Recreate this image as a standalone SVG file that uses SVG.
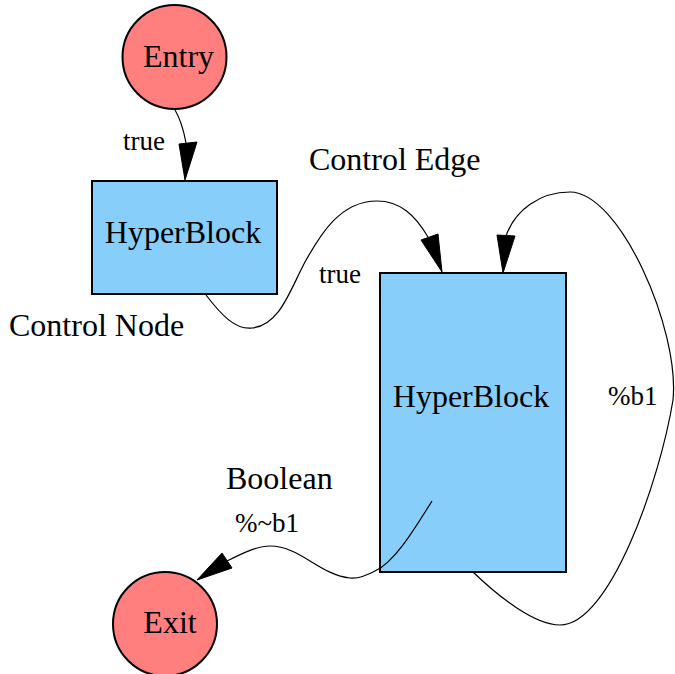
<svg xmlns="http://www.w3.org/2000/svg" width="675" height="674" viewBox="0 0 675 674">
  <style>
    .term { fill: #ff7f7f; stroke: #000; stroke-width: 2; }
    .block { fill: #87cefa; stroke: #000; stroke-width: 2; }
    .edge { fill: none; stroke: #000; stroke-width: 1.2; }
    .head { fill: #000; stroke: #000; stroke-width: 1; }
    .big { font-size: 32px; }
    .lbl { font-size: 27px; }
  </style>
  <rect width="675" height="674" fill="#fff"/>

  <g font-family="Liberation Serif, DejaVu Serif, Times New Roman, serif" fill="#000">
  <!-- nodes -->
  <g id="entry">
    <circle class="term" cx="174.5" cy="57" r="52"/>
    <text class="big" x="178.5" y="67" text-anchor="middle">Entry</text>
  </g>
  <g id="hyperblock-1">
    <rect class="block" x="92" y="181" width="185" height="113"/>
    <text class="big" x="183" y="243" text-anchor="middle">HyperBlock</text>
  </g>
  <g id="hyperblock-2">
    <rect class="block" x="380" y="273" width="186" height="299"/>
    <text class="big" x="471" y="407" text-anchor="middle">HyperBlock</text>
  </g>
  <g id="exit">
    <circle class="term" cx="165" cy="624" r="52"/>
    <text class="big" x="170" y="633" text-anchor="middle">Exit</text>
  </g>

  <!-- connectors, drawn over the blocks -->
  <g id="edges">
    <g id="edge-entry-hb1">
      <path class="edge" d="M175,110 C181,120 184,132 186,143"/>
      <polygon class="head" points="179,144 197,142 185,180"/>
      <text class="lbl" x="123" y="150">true</text>
    </g>
    <g id="edge-hb1-hb2">
      <path class="edge" d="M206,295 C222,316 236,330 252,328 C280,325 290,290 305,262 C320,235 340,201 377,201 C400,201 415,215 428,237"/>
      <polygon class="head" points="421,240 438,234 442,272"/>
      <text class="lbl" x="319" y="283">true</text>
    </g>
    <g id="edge-hb2-loop">
      <path class="edge" d="M473,572 C500,598 535,625 560,625 C610,625 660,480 673,400 C680,330 620,192 570,192 C540,192 515,210 506,236"/>
      <polygon class="head" points="497,235 515,236 503,273"/>
      <text class="lbl" x="608" y="405">%b1</text>
    </g>
    <g id="edge-hb2-exit">
      <path class="edge" d="M432,501 C415,528 395,562 375,571 C365,576 358,579 350,578 C320,575 300,546 270,546 C258,546 245,552 227,561"/>
      <polygon class="head" points="222,553 232,568 197,580"/>
      <text class="lbl" x="235" y="532">%~b1</text>
    </g>
  </g>

  <!-- legend annotations -->
  <g id="annotations">
    <text class="big" x="309" y="170">Control Edge</text>
    <text class="big" x="9" y="336">Control Node</text>
    <text class="big" x="226" y="489">Boolean</text>
  </g>
  </g>
</svg>
